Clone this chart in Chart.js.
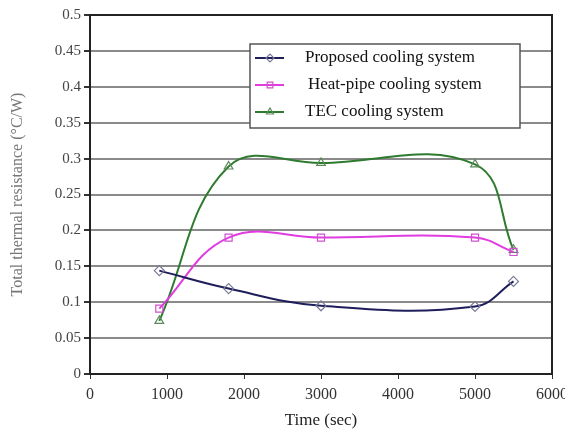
<!DOCTYPE html>
<html><head><meta charset="utf-8">
<script src="https://cdn.jsdelivr.net/npm/chart.js@4/dist/chart.umd.min.js"></script>
<style>html,body{margin:0;padding:0;background:#fff}#wrap{width:565px;height:430px;position:relative}</style>
</head><body><div id="wrap"><canvas id="c" width="565" height="430"></canvas></div>
<script>
const times = [900, 1800, 3000, 5000, 5500];
const proposed = [0.144, 0.119, 0.095, 0.094, 0.129];
const heatPipe = [0.091, 0.19, 0.19, 0.19, 0.17];
const tec = [0.074, 0.289, 0.294, 0.292, 0.173];
const seriesNames = ['Proposed cooling system', 'Heat-pipe cooling system', 'TEC cooling system'];
const yTickLabels = ['0','0.05','0.1','0.15','0.2','0.25','0.3','0.35','0.4','0.45','0.5'];
const xTickLabels = ['0','1000','2000','3000','4000','5000','6000'];

const pts = arr => arr.map((v,i)=>({x:times[i], y:v}));
const SERIF = "'Liberation Serif', 'Times New Roman', serif";

function mk(label, data, color, markColor, style){
  return {label, data:pts(data), borderColor:color, borderWidth:2, tension:0.4,
    pointStyle:style, pointRadius:5, pointBorderColor:markColor, pointBackgroundColor:'rgba(255,255,255,0)',
    pointBorderWidth:1.2, fill:false};
}

const legendPlugin = {
  id:'boxLegend',
  afterDraw(chart){
    const ctx = chart.ctx; const a = chart.chartArea;
    ctx.save();
    ctx.strokeStyle = '#222'; ctx.lineWidth = 2;
    ctx.strokeRect(a.left, a.top, a.right-a.left, a.bottom-a.top);
    const bx=250, by=44, bw=270, bh=84;
    ctx.fillStyle='#fff'; ctx.fillRect(bx,by,bw,bh);
    ctx.strokeStyle='#555'; ctx.lineWidth=1.5; ctx.strokeRect(bx,by,bw,bh);
    ctx.font = "17px " + SERIF; ctx.textBaseline='middle'; ctx.fillStyle='#111';
    chart.data.datasets.forEach((ds,i)=>{
      const y = by + 14 + i*27;
      ctx.strokeStyle = ds.borderColor; ctx.lineWidth = 2;
      ctx.beginPath(); ctx.moveTo(bx+5,y); ctx.lineTo(bx+34,y); ctx.stroke();
      if (Chart.helpers && Chart.helpers.drawPoint){
        ctx.strokeStyle = ds.pointBorderColor; ctx.fillStyle='rgba(255,255,255,0)'; ctx.lineWidth=1.2;
        Chart.helpers.drawPoint(ctx,{pointStyle:ds.pointStyle, radius:4, borderWidth:1.2, rotation:0}, bx+20, y);
      }
      ctx.fillStyle='#111';
      ctx.fillText(ds.label, bx+55 + (i===1?3:0), y);
    });
    ctx.restore();
  }
};

new Chart(document.getElementById('c'), {
  type:'line',
  data:{datasets:[
    mk(seriesNames[0], proposed, '#1e1e5a', '#7a7a9a', 'rectRot'),
    mk(seriesNames[1], heatPipe, '#e03ce0', '#d050d0', 'rect'),
    mk(seriesNames[2], tec, '#2e7a2e', '#5a8a5a', 'triangle')
  ]},
  options:{
    responsive:false, animation:false,
    layout:{padding:{top:15,right:13,left:0,bottom:0}},
    plugins:{legend:{display:false}, tooltip:{enabled:false}},
    scales:{
      x:{type:'linear', min:0, max:6000,
        ticks:{stepSize:1000, autoSkip:false, maxRotation:0, padding:6, color:'#333',
          font:{family:SERIF, size:16}, callback:(v,i)=>xTickLabels[i]},
        grid:{drawOnChartArea:false, drawTicks:true, tickLength:5, color:'#333', lineWidth:1},
        border:{display:true, color:'#222', width:2},
        title:{display:true, text:'Time (sec)', color:'#222', font:{family:SERIF, size:17}, padding:{top:0,bottom:-1}},
        afterFit:s=>{s.height=56; s.paddingRight=0; s.paddingLeft=0;}
      },
      y:{min:0, max:0.5,
        ticks:{stepSize:0.05, autoSkip:false, padding:3, color:'#444',
          font:{family:SERIF, size:15}, callback:(v,i)=>yTickLabels[i]},
        grid:{color:'#8a8a8a', lineWidth:2, drawTicks:true, tickLength:6, tickColor:'#333'},
        border:{display:true, color:'#222', width:2},
        title:{display:true, text:'Total thermal resistance (°C/W)', color:'#777', font:{family:SERIF, size:16}, padding:{top:8,bottom:0}},
        afterFit:s=>{s.width=90; s.paddingTop=0; s.paddingBottom=0;}
      }
    }
  },
  plugins:[legendPlugin]
});
</script></body></html>
